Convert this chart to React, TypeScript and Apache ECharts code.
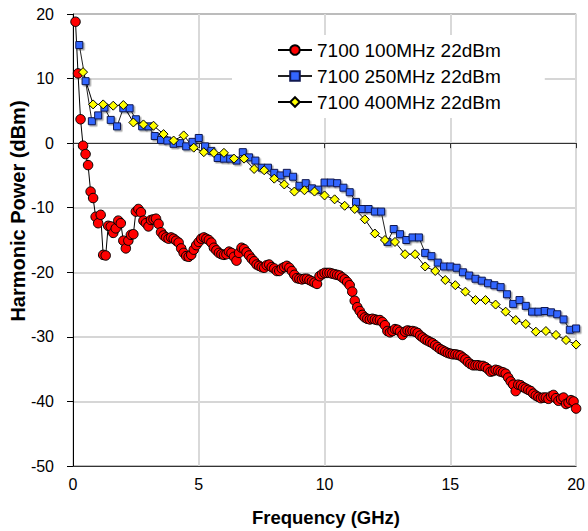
import React, { useEffect, useRef } from "react";
import * as echarts from "echarts";

// Frequency steps (GHz) of each sweep
const redStep = 0.1;
const blueStep = 0.25;
const yellowStep = 0.4;

const seriesNames = ["7100 100MHz 22dBm", "7100 250MHz 22dBm", "7100 400MHz 22dBm"];

// Harmonic power (dBm), 100 MHz sweep: 0.1 .. 20 GHz
const red100 = [
  18.8, 10.8, 3.7, -0.4, -1.7, -3.4, -7.5, -8.5, -11.4, -12.4,
  -11.1, -17.3, -17.4, -12.8, -12.9, -13.9, -13.2, -12.0, -12.4, -15.1,
  -16.3, -15.1, -14.2, -14.1, -10.6, -10.2, -10.7, -12.0, -12.4, -12.9,
  -11.9, -11.8, -11.7, -12.5, -13.8, -14.3, -14.6, -14.8, -14.6, -14.8,
  -15.1, -15.4, -16.3, -17.0, -17.5, -17.6, -17.3, -16.5, -15.8, -15.3,
  -14.8, -14.6, -14.8, -15.0, -15.4, -16.2, -16.6, -17.0, -17.2, -17.3,
  -17.2, -16.8, -17.0, -17.6, -18.2, -17.0, -16.2, -16.4, -16.9, -17.4,
  -17.9, -18.3, -18.8, -19.0, -19.2, -19.3, -18.9, -18.8, -19.2, -19.4,
  -19.8, -19.8, -19.4, -19.2, -19.0, -19.3, -19.8, -20.4, -20.9, -21.0,
  -21.1, -21.0, -21.0, -21.2, -21.4, -21.6, -21.8, -20.6, -20.3, -20.1,
  -20.1, -20.1, -20.2, -20.3, -20.4, -20.5, -20.8, -21.1, -21.5, -22.0,
  -23.0, -24.4, -25.4, -26.0, -26.6, -27.0, -27.2, -27.3, -27.2, -27.3,
  -27.4, -27.4, -27.7, -28.2, -29.1, -29.3, -29.1, -28.8, -28.9, -29.2,
  -29.7, -29.2, -29.0, -29.1, -29.1, -29.2, -29.4, -29.8, -30.1, -30.4,
  -30.6, -30.8, -31.0, -31.3, -31.6, -31.9, -32.1, -32.3, -32.5, -32.6,
  -32.7, -32.7, -32.8, -32.9, -33.2, -33.5, -33.9, -34.2, -34.4, -34.4,
  -34.4, -34.5, -34.5, -34.7, -35.0, -35.4, -35.3, -35.1, -35.2, -35.4,
  -35.5, -35.7, -36.3, -36.9, -37.4, -38.4, -37.4, -37.5, -37.8, -38.0,
  -38.2, -38.4, -38.8, -39.1, -39.3, -39.5, -39.4, -39.4, -39.6, -39.2,
  -39.0, -39.5, -39.9, -39.6, -39.4, -40.4, -40.2, -39.8, -40.0, -41.1,
];

// Harmonic power (dBm), 250 MHz sweep: 0.25 .. 20 GHz
const blue250 = [
  15.2, 9.6, 3.4, 4.3, 5.5, 3.6, 2.6, 5.4, 5.4, 3.7,
  2.6, 2.6, 1.1, 0.5, 0.4, -0.1, 0.0, -0.5, 0.2, 0.8,
  -0.5, -1.2, -2.3, -2.4, -2.4, -2.7, -1.4, -2.2, -2.7, -3.8,
  -3.8, -4.6, -5.0, -4.6, -5.2, -6.6, -6.2, -7.0, -7.2, -6.1,
  -6.1, -6.2, -6.9, -7.6, -9.1, -10.2, -10.2, -10.6, -10.6, -15.3,
  -13.3, -14.1, -15.0, -14.6, -14.6, -17.0, -17.5, -18.5, -19.1, -19.1,
  -19.3, -20.0, -20.5, -21.0, -21.3, -21.7, -22.0, -22.3, -23.4, -24.9,
  -24.3, -25.2, -26.1, -26.1, -26.0, -26.2, -26.5, -27.3, -28.9, -28.7,
];

// Harmonic power (dBm), 400 MHz sweep: 0.4 .. 20 GHz
const yellow400 = [
  11.0, 6.0, 6.0, 5.8, 5.9, 3.2, 2.9, 2.7, 1.4, 0.4,
  1.2, -0.7, -1.4, -1.5, -1.5, -2.4, -2.4, -4.0, -4.2, -5.5,
  -6.4, -7.5, -7.3, -7.5, -8.1, -8.7, -9.7, -10.2, -11.8, -14.0,
  -15.0, -15.3, -17.2, -17.2, -19.1, -19.8, -21.2, -22.0, -23.0, -24.3,
  -24.3, -25.0, -26.1, -27.4, -28.0, -29.2, -29.1, -29.7, -30.5, -31.2,
];

const xTitle = "Frequency (GHz)";
const yTitle = "Harmonic Power (dBm)";

const FONT = 'Arial, "Liberation Sans", sans-serif';

function toPairs(values: number[], step: number): number[][] {
  return values.map((v, i) => [Number(((i + 1) * step).toFixed(3)), v]);
}

export default function App() {
  const ref = useRef<HTMLDivElement>(null);
  useEffect(() => {
    if (!ref.current) return;
    const chart = echarts.init(ref.current, null, { renderer: "svg" });
    chart.setOption({
      animation: false,
      backgroundColor: "#fff",
      textStyle: { fontFamily: FONT },
      grid: {
        left: 73,
        top: 14,
        right: 11,
        bottom: 65,
        show: true,
        borderColor: "#333",
        borderWidth: 1,
        backgroundColor: "transparent",
      },
      xAxis: [
        {
          type: "value",
          min: 0,
          max: 20,
          interval: 5,
          position: "bottom",
          axisLine: { show: true, onZero: false, lineStyle: { color: "#333", width: 1 } },
          axisTick: { show: false },
          axisLabel: { color: "#000", fontSize: 16, fontFamily: FONT, margin: 10 },
          splitLine: { show: true, lineStyle: { color: "#d9d9d9", width: 2 } },
        },
        {
          type: "value",
          min: 0,
          max: 20,
          interval: 5,
          position: "top",
          axisLine: { show: true, onZero: true, lineStyle: { color: "#333", width: 1 } },
          axisTick: { show: true, inside: true, length: 5, lineStyle: { color: "#333" } },
          axisLabel: { show: false },
          splitLine: { show: false },
        },
      ],
      yAxis: {
        type: "value",
        min: -50,
        max: 20,
        interval: 10,
        axisLine: { show: true, onZero: false, lineStyle: { color: "#000", width: 1 } },
        axisTick: { show: true, length: 6, lineStyle: { color: "#000" } },
        axisLabel: { color: "#000", fontSize: 16, fontFamily: FONT, margin: 19 },
        splitLine: { show: true, lineStyle: { color: "#c8c8c8", width: 1.5 } },
      },
      legend: {
        orient: "vertical",
        left: 232,
        top: 35,
        padding: [5, 44, 6, 45],
        backgroundColor: "#fff",
        itemWidth: 34,
        itemHeight: 12,
        itemGap: 6,
        textStyle: { fontSize: 19, lineHeight: 20, color: "#000", fontFamily: FONT },
        data: seriesNames,
      },
      graphic: [
        {
          type: "text",
          x: 18,
          y: 211,
          rotation: Math.PI / 2,
          style: {
            text: yTitle,
            font: `bold 20px ${FONT}`,
            fill: "#000",
            align: "center",
            verticalAlign: "middle",
          },
        },
        {
          type: "text",
          x: 326,
          y: 517,
          style: {
            text: xTitle,
            font: `bold 18.5px ${FONT}`,
            fill: "#000",
            align: "center",
            verticalAlign: "middle",
          },
        },
      ],
      series: [
        {
          name: seriesNames[0],
          type: "line",
          xAxisIndex: 0,
          data: toPairs(red100, redStep),
          symbol: "circle",
          symbolSize: 9.5,
          lineStyle: { color: "#000", width: 1 },
          itemStyle: { color: "#ff0000", borderColor: "#000", borderWidth: 1 },
        },
        {
          name: seriesNames[1],
          type: "line",
          xAxisIndex: 0,
          data: toPairs(blue250, blueStep),
          symbol: "rect",
          symbolSize: 7,
          lineStyle: { color: "#222", width: 1 },
          itemStyle: {
            color: "#3366ff",
            borderColor: "#101850",
            borderWidth: 1,
            shadowColor: "rgba(0,0,0,0.35)",
            shadowBlur: 1,
            shadowOffsetX: 1.5,
            shadowOffsetY: 1.5,
          },
        },
        {
          name: seriesNames[2],
          type: "line",
          xAxisIndex: 0,
          data: toPairs(yellow400, yellowStep),
          symbol: "diamond",
          symbolSize: 9,
          lineStyle: { color: "#000", width: 1 },
          itemStyle: { color: "#ffff00", borderColor: "#000", borderWidth: 1 },
        },
      ],
    });
    return () => chart.dispose();
  }, []);
  return <div ref={ref} style={{ width: 588, height: 531, position: "absolute", left: 0, top: 0 }} />;
}
